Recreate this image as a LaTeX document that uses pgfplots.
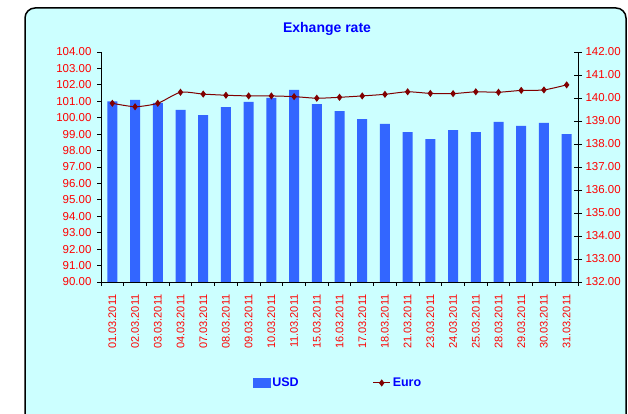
\documentclass[border=0pt]{standalone}
\usepackage{pgfplots}
\pgfplotsset{compat=1.18}
\usepackage{fontspec}
\setmainfont{Liberation Sans}
\definecolor{bg}{HTML}{CCFFFF}
\definecolor{barblue}{HTML}{3366FF}
\definecolor{eurored}{HTML}{800000}
\definecolor{lblred}{HTML}{FF0000}
\definecolor{ttlblue}{HTML}{0000FF}
\begin{document}
\begin{tikzpicture}[x=1pt,y=1pt]
\useasboundingbox (0,0) rectangle (628,414);
\fill[white] (0,0) rectangle (628,414);
\draw[line width=1.5pt, fill=bg, rounded corners=10pt] (25,406) -- (626,406) -- (626,-30) -- (25,-30) -- cycle;
\node[font=\fontsize{14}{16}\selectfont\bfseries, text=ttlblue] at (327,385) {Exhange rate};
\begin{axis}[
  at={(101pt,132pt)}, anchor=south west, scale only axis,
  width=477pt, height=230pt,
  xmin=-0.5, xmax=20.5, ymin=90, ymax=104,
  axis y line*=left, axis x line*=bottom,
  axis line style={black, line width=0.8pt},
  ytick={90,...,104},
  tick align=outside,
  major tick length=4pt, minor tick length=4pt,
  tick style={black, line width=0.8pt},
  yticklabel style={/pgf/number format/.cd, fixed, fixed zerofill, precision=2, assume math mode=true},
  yticklabel shift=2pt,
  ticklabel style={font=\fontsize{11.5}{13}\selectfont, text=lblred},
  xtick={0,...,20},
  major x tick style={draw=none},
  minor xtick={-0.5,0.5,...,20.5},
  xticklabels={01.03.2011,02.03.2011,03.03.2011,04.03.2011,07.03.2011,08.03.2011,09.03.2011,10.03.2011,11.03.2011,15.03.2011,16.03.2011,17.03.2011,18.03.2011,21.03.2011,23.03.2011,24.03.2011,25.03.2011,28.03.2011,29.03.2011,30.03.2011,31.03.2011},
  xticklabel style={rotate=90, anchor=east, font=\fontsize{11}{13}\selectfont},
  xticklabel shift=5pt,
  clip=false,
]
\addplot[ybar, bar width=10pt, fill=barblue, draw=none] coordinates {
(0,101.0) (1,101.08) (2,100.9) (3,100.47) (4,100.16) (5,100.65) (6,100.96) (7,101.2) (8,101.69) (9,100.83) (10,100.4) (11,99.92) (12,99.62) (13,99.13) (14,98.7) (15,99.25) (16,99.13) (17,99.74) (18,99.5) (19,99.68) (20,99.0)};
\end{axis}
\begin{axis}[
  at={(101pt,132pt)}, anchor=south west, scale only axis,
  width=477pt, height=230pt,
  xmin=-0.5, xmax=20.5, ymin=132, ymax=142,
  axis y line*=right, axis x line=none,
  axis line style={black, line width=0.8pt},
  ytick={132,...,142},
  tick align=center,
  major tick length=8pt,
  tick style={black, line width=0.8pt},
  yticklabel style={/pgf/number format/.cd, fixed, fixed zerofill, precision=2, assume math mode=true},
  ticklabel style={font=\fontsize{11.5}{13}\selectfont, text=lblred},
  legend style={at={(0.497,-0.439)}, anchor=center, draw=none, fill=none,
    font=\fontsize{12.5}{14}\selectfont\bfseries, text=ttlblue,
    /tikz/every even column/.append style={column sep=72pt}},
  legend columns=2,
]
\addlegendimage{legend image code/.code={\fill[barblue] (0pt,-4.5pt) rectangle (17pt,4.5pt);}}
\addlegendentry{USD}
\addplot[eurored, line width=1pt, smooth, tension=0.4, mark=diamond*, mark size=2.8pt, mark options={fill=eurored, draw=eurored}] coordinates {
(0,139.77) (1,139.62) (2,139.77) (3,140.25) (4,140.17) (5,140.12) (6,140.09) (7,140.09) (8,140.06) (9,139.99) (10,140.03) (11,140.09) (12,140.16) (13,140.27) (14,140.2) (15,140.19) (16,140.27) (17,140.25) (18,140.33) (19,140.35) (20,140.57)};
\addlegendentry{Euro}
\end{axis}
\end{tikzpicture}
\end{document}
